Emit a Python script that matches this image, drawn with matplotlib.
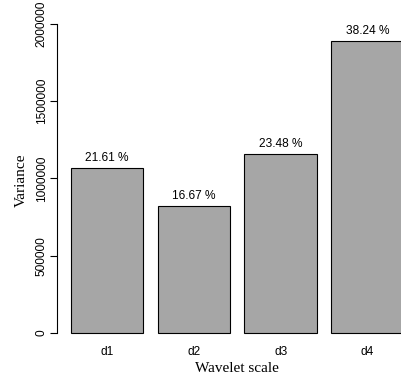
import matplotlib
matplotlib.use("Agg")
import matplotlib.pyplot as plt

# wavelet variance by scale
scales = ["d1", "d2", "d3", "d4"]
variance = [1068000, 824000, 1160000, 1891000]
pct_labels = ["21.61 %", "16.67 %", "23.48 %", "38.24 %"]
yticks = [0, 500000, 1000000, 1500000, 2000000]

fig = plt.figure(figsize=(4.02, 3.82), dpi=100)
# plot region runs a bit past the right edge, like the cropped original
ax = fig.add_axes([57.4 / 402, 37.3 / 382, 359.7 / 402, 328.4 / 382])

centers = [0.7 + 1.2 * i for i in range(len(scales))]
ax.bar(centers, variance, width=1.0, color="#a6a6a6", edgecolor="black", linewidth=0.8)

for x, v, lab in zip(centers, variance, pct_labels):
    ax.annotate(lab, (x, v), xytext=(0, 3), textcoords="offset points",
                ha="center", va="bottom", fontsize=8.6, family="Liberation Sans")

ax.set_xlim(0.016, 4.984)
ax.set_ylim(-76000, 2050000)

for s in ["top", "right", "bottom"]:
    ax.spines[s].set_visible(False)
ax.spines["left"].set_bounds(0, 2000000)
ax.spines["left"].set_linewidth(0.8)

ax.set_yticks(yticks)
ax.set_yticklabels([str(t) for t in yticks], rotation=90, va="center",
                   fontsize=8.6, family="Liberation Sans")
ax.tick_params(axis="y", length=5, width=0.8, pad=2)

ax.set_xticks(centers)
ax.set_xticklabels(scales, fontsize=8.6, family="Liberation Sans")
ax.tick_params(axis="x", length=0, pad=1)

ax.set_ylabel("Variance", family="Liberation Serif", fontsize=11, labelpad=6)
ax.set_xlabel("Wavelet scale", family="Liberation Serif", fontsize=11, labelpad=3)

fig.savefig("out.png", dpi=100)
